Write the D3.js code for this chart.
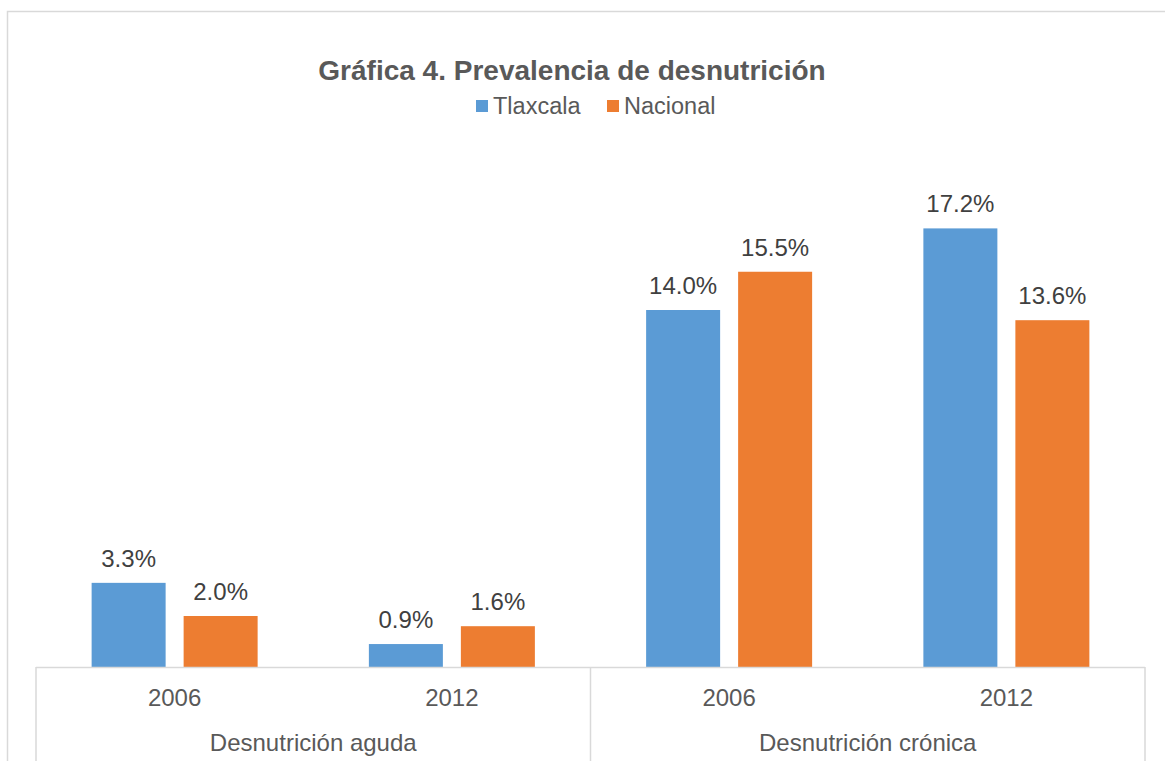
<!DOCTYPE html>
<html><head><meta charset="utf-8">
<script src="https://cdn.jsdelivr.net/npm/d3@7"></script>
<style>body{margin:0;background:#fff;} svg{display:block;}</style>
</head><body>
<svg id="c" width="1165" height="761"></svg>
<script>
const groups = ["Desnutrición aguda", "Desnutrición crónica"];
const years = ["2006", "2012"];
const categories = ["Desnutrición aguda|2006", "Desnutrición aguda|2012", "Desnutrición crónica|2006", "Desnutrición crónica|2012"];
const seriesNames = ["Tlaxcala", "Nacional"];
const tlaxcala = [3.3, 0.9, 14.0, 17.2];
const nacional = [2.0, 1.6, 15.5, 13.6];
const colors = ["#5B9BD5", "#ED7D31"];

const svg = d3.select("#c");
const font = "'Liberation Sans', Arial, sans-serif";
const left = 36, right = 1145, base = 667;

// outer chart border
svg.append("rect").attr("x", 7.5).attr("y", 11.5).attr("width", 1170).attr("height", 800)
  .attr("fill", "none").attr("stroke", "#D9D9D9").attr("stroke-width", 1.5);

const x0 = d3.scaleBand().domain(categories).range([left, right]).padding(0);
const outer = (x0.step() - 166) / 2;
const x1 = d3.scaleBand().domain(seriesNames).range([outer, x0.step() - outer]).paddingInner(18/92).paddingOuter(0);
const y = d3.scaleLinear().domain([0, 20]).range([base, base - 510]);

const data = categories.map((c, i) => ({cat: c, vals: [tlaxcala[i], nacional[i]]}));

const g = svg.append("g");
const cg = g.selectAll("g.cat").data(data).join("g").attr("class", "cat")
  .attr("transform", d => `translate(${x0(d.cat)},0)`);
cg.selectAll("rect").data(d => d.vals.map((v, j) => ({s: seriesNames[j], v, j}))).join("rect")
  .attr("x", d => x1(d.s)).attr("width", x1.bandwidth())
  .attr("y", d => y(d.v)).attr("height", d => y(0) - y(d.v))
  .attr("fill", d => colors[d.j]);
cg.selectAll("text").data(d => d.vals.map((v, j) => ({s: seriesNames[j], v, j}))).join("text")
  .attr("x", d => x1(d.s) + x1.bandwidth()/2).attr("y", d => y(d.v) - 16)
  .attr("text-anchor", "middle").attr("font-family", font).attr("font-size", 24)
  .attr("fill", "#404040").text(d => d.v.toFixed(1) + "%");

// axis
const axisColor = "#D9D9D9";
svg.append("line").attr("x1", left).attr("x2", right).attr("y1", base + 0.5).attr("y2", base + 0.5)
  .attr("stroke", axisColor).attr("stroke-width", 1.5);
[left, x0(categories[2]), right].forEach(xx => {
  svg.append("line").attr("x1", xx).attr("x2", xx).attr("y1", base).attr("y2", 761)
    .attr("stroke", axisColor).attr("stroke-width", 1.5);
});
// year labels
svg.selectAll("text.yr").data(categories).join("text").attr("class", "yr")
  .attr("x", d => x0(d) + x0.bandwidth()/2).attr("y", 706)
  .attr("text-anchor", "middle").attr("font-family", font).attr("font-size", 24)
  .attr("fill", "#595959").text(d => d.split("|")[1]);
// group labels
svg.selectAll("text.grp").data(groups).join("text").attr("class", "grp")
  .attr("x", (d, i) => (x0(categories[i*2]) + x0(categories[i*2+1]) + x0.bandwidth())/2).attr("y", 751)
  .attr("text-anchor", "middle").attr("font-family", font).attr("font-size", 24)
  .attr("fill", "#595959").text(d => d);

// title
svg.append("text").attr("x", 572).attr("y", 80).attr("text-anchor", "middle")
  .attr("font-family", font).attr("font-size", 28).attr("font-weight", "bold")
  .attr("fill", "#595959").text("Gráfica 4. Prevalencia de desnutrición");

// legend
const legX = [476, 607];
seriesNames.forEach((s, i) => {
  svg.append("rect").attr("x", legX[i]).attr("y", 100).attr("width", 12).attr("height", 12).attr("fill", colors[i]);
  svg.append("text").attr("x", legX[i] + 17).attr("y", 114).attr("font-family", font).attr("font-size", 23.5)
    .attr("fill", "#595959").text(s);
});
</script>
</body></html>
